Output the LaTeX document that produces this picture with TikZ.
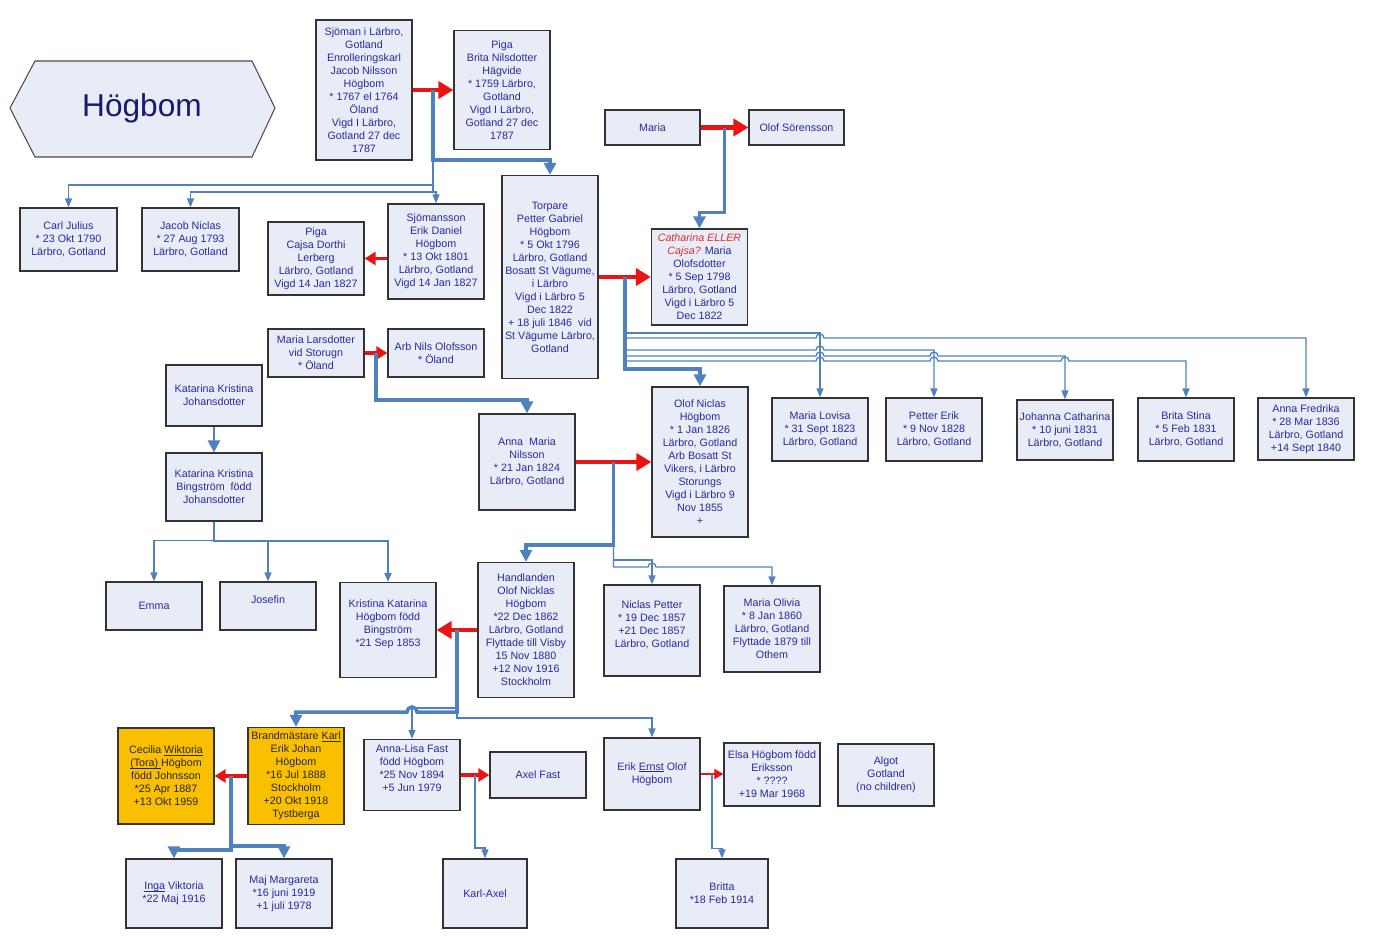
\documentclass[tikz,border=0pt]{standalone}
\usepackage{fontspec}
\setmainfont{Liberation Sans}
\usetikzlibrary{arrows.meta,calc}
\definecolor{boxfill}{RGB}{232,236,246}
\definecolor{namecol}{RGB}{40,40,160}
\definecolor{titlecol}{RGB}{25,25,110}
\definecolor{goldfill}{RGB}{250,192,0}
\definecolor{wedred}{RGB}{235,20,20}
\definecolor{kinblue}{RGB}{79,129,189}
\definecolor{notered}{RGB}{225,45,45}
\newcommand\ulword[1]{\setbox0\hbox{#1}\rlap{\rule[-0.8pt]{\wd0}{0.35pt}}\box0\relax}
\begin{document}
\begin{tikzpicture}[x=0.02cm,y=-0.02cm,
  pbox/.style={draw=black!80,line width=0.7pt,fill=boxfill,text=namecol,align=center,
    font=\fontsize{6.1}{7.4}\selectfont,minimum width=1.92cm,inner sep=1pt},
  gbox/.style={pbox,fill=goldfill,text=black!85},
  ht/.style={minimum height=#1*0.02cm},
  wed/.style={draw=wedred,line width=2.8pt,-{Triangle[length=0.3cm,width=0.34cm]}},
  wedsmall/.style={draw=wedred,line width=2pt,-{Triangle[length=0.22cm,width=0.26cm]}},
  kin/.style={draw=kinblue,line width=0.75pt,-{Triangle[length=0.18cm,width=0.14cm]}},
  heir/.style={draw=kinblue,line width=2pt,-{Triangle[length=0.24cm,width=0.24cm]}}]
  \useasboundingbox (0,0) rectangle (1380,940);

  % Titel
  \filldraw[fill=boxfill,draw=black!70,line width=0.6pt]
    (10,108) -- (35,61) -- (252,61) -- (275,108) -- (252,157) -- (35,157) -- cycle;
  \node[text=titlecol,font=\fontsize{18}{20}\selectfont] (title) at (142,108) {Högbom};

  % Generation 1
  \node[pbox,ht=140] (jacob) at (364,90) {Sjöman i Lärbro,\\Gotland\\Enrolleringskarl\\Jacob Nilsson\\Högbom\\* 1767 el 1764\\Öland\\Vigd I Lärbro,\\Gotland 27 dec\\1787};
  \node[pbox,ht=119] (brita) at (502,90) {Piga\\Brita Nilsdotter\\Hägvide\\* 1759 Lärbro,\\Gotland\\Vigd I Lärbro,\\Gotland 27 dec\\1787};
  \node[pbox,ht=35,minimum width=1.9cm] (maria) at (652.5,127.5) {Maria};
  \node[pbox,ht=35,minimum width=1.9cm] (olof) at (796.5,127.5) {Olof Sörensson};

  % Generation 2
  \node[pbox,ht=63,minimum width=1.94cm] (carl) at (68.5,239.5) {Carl Julius\\* 23 Okt 1790\\Lärbro, Gotland};
  \node[pbox,ht=63,minimum width=1.94cm] (jacobn) at (190.5,239.5) {Jacob Niclas\\* 27 Aug 1793\\Lärbro, Gotland};
  \node[pbox,ht=73] (cajsa) at (316,258.5) {Piga\\Cajsa Dorthi\\Lerberg\\Lärbro, Gotland\\Vigd 14 Jan 1827};
  \node[pbox,ht=95] (erikd) at (436,251.5) {Sjömansson\\Erik Daniel\\Högbom\\* 13 Okt 1801\\Lärbro, Gotland\\Vigd 14 Jan 1827};
  \node[pbox,ht=203] (petter) at (550,277) {Torpare\\Petter Gabriel\\Högbom\\* 5 Okt 1796\\Lärbro, Gotland\\Bosatt St Vägume,\\i Lärbro\\Vigd i Lärbro 5\\Dec 1822\\+ 18 juli 1846 \ vid\\St Vägume Lärbro,\\Gotland};
  \node[pbox,ht=96] (cath) at (699.5,277) {{\color{notered}\itshape Catharina ELLER}\\{\color{notered}\itshape Cajsa?} Maria\\Olofsdotter\\* 5 Sep 1798\\Lärbro, Gotland\\Vigd i Lärbro 5\\Dec 1822};
  \node[pbox,ht=48] (marial) at (316,353) {Maria Larsdotter\\vid Storugn\\* Öland};
  \node[pbox,ht=48] (nils) at (436,353) {Arb Nils Olofsson\\* Öland};
  \node[pbox,ht=61] (katj) at (214,395.5) {Katarina Kristina\\Johansdotter};
  \node[pbox,ht=68] (katb) at (214,487) {Katarina Kristina\\Bingström \ född\\Johansdotter};

  % Generation 3
  \node[pbox,ht=96] (anna) at (527,462) {Anna \ Maria\\Nilsson\\* 21 Jan 1824\\Lärbro, Gotland};
  \node[pbox,ht=150] (olofn) at (700,462) {Olof Niclas\\Högbom\\* 1 Jan 1826\\Lärbro, Gotland\\Arb Bosatt St\\Vikers, i Lärbro\\Storungs\\Vigd i Lärbro 9\\Nov 1855\\+};
  \node[pbox,ht=63] (lovisa) at (820,429.5) {Maria Lovisa\\* 31 Sept 1823\\Lärbro, Gotland};
  \node[pbox,ht=63] (pettere) at (934,429.5) {Petter Erik\\* 9 Nov 1828\\Lärbro, Gotland};
  \node[pbox,ht=60] (johanna) at (1065,430) {Johanna Catharina\\* 10 juni 1831\\Lärbro, Gotland};
  \node[pbox,ht=63] (stina) at (1186,429.5) {Brita Stina\\* 5 Feb 1831\\Lärbro, Gotland};
  \node[pbox,ht=62] (fredrika) at (1306,429) {Anna Fredrika\\* 28 Mar 1836\\Lärbro, Gotland\\+14 Sept 1840};

  % Generation 4
  \node[pbox,ht=48] (emma) at (154,606) {Emma};
  \node[pbox,ht=48] (josefin) at (268,606) {Josefin\\~};
  \node[pbox,ht=95] (kristina) at (388,630) {Kristina Katarina\\Högbom född\\Bingström\\*21 Sep 1853\\~};
  \node[pbox,ht=135] (handl) at (526,630) {Handlanden\\Olof Nicklas\\Högbom\\*22 Dec 1862\\Lärbro, Gotland\\Flyttade till Visby\\15 Nov 1880\\+12 Nov 1916\\Stockholm};
  \node[pbox,ht=91] (niclasp) at (652,630.5) {Niclas Petter\\* 19 Dec 1857\\+21 Dec 1857\\Lärbro, Gotland\\~};
  \node[pbox,ht=86] (olivia) at (772,629) {Maria Olivia\\* 8 Jan 1860\\Lärbro, Gotland\\Flyttade 1879 till\\Othem};

  % Generation 5
  \node[gbox,ht=96] (cecilia) at (166,776) {Cecilia \ulword{Wiktoria}\\\ulword{(Tora) }Högbom\\född Johnsson\\*25 Apr 1887\\+13 Okt 1959};
  \node[gbox,ht=97] (karl) at (296,776) {Brandmästare \ulword{Karl}\\Erik Johan\\Högbom\\*16 Jul 1888\\Stockholm\\+20 Okt 1918\\Tystberga};
  \node[pbox,ht=71] (annalisa) at (412,775) {Anna-Lisa Fast\\född Högbom\\*25 Nov 1894\\+5 Jun 1979\\~};
  \node[pbox,ht=46] (axel) at (538,775) {Axel Fast};
  \node[pbox,ht=72] (ernst) at (652,774) {Erik \ulword{Ernst} Olof\\Högbom};
  \node[pbox,ht=63] (elsa) at (772,774.5) {Elsa Högbom född\\Eriksson\\* ????\\+19 Mar 1968};
  \node[pbox,ht=62] (algot) at (886,775) {Algot\\Gotland\\(no children)};

  % Generation 6
  \node[pbox,ht=69] (inga) at (174,893.5) {\ulword{Inga} Viktoria\\*22 Maj 1916};
  \node[pbox,ht=69] (maj) at (284,893.5) {Maj Margareta\\*16 juni 1919\\+1 juli 1978};
  \node[pbox,ht=69,minimum width=1.68cm] (karlaxel) at (485,893.5) {Karl-Axel};
  \node[pbox,ht=69,minimum width=1.84cm] (britta) at (722,893.5) {Britta\\*18 Feb 1914};

  % Gifta par
  \draw[wed] (jacob.east) -- (brita.west);
  \draw[wed] (maria.east) -- (olof.west);
  \draw[wedsmall] (erikd.west |- cajsa.east) -- (cajsa.east);
  \draw[wed] (petter.east) -- (cath.west);
  \draw[wedsmall] (marial.east) -- (nils.west);
  \draw[wed] (anna.east) -- (olofn.west);
  \draw[wed] (handl.west) -- (kristina.east);
  \draw[wedsmall] (karl.west) -- (cecilia.east);
  \draw[wedsmall] (annalisa.east) -- (axel.west);
  \draw[draw=wedred,line width=1.2pt,-{Triangle[length=0.18cm,width=0.2cm]}] (ernst.east) -- (ernst.east -| elsa.west);

  \coordinate (m1) at ($(jacob.east)!.5!(brita.west)$);
  \coordinate (m2) at ($(maria.east)!.5!(olof.west)$);
  \coordinate (m3) at ($(petter.east)!.5!(cath.west)$);
  \coordinate (m4) at ($(marial.east)!.5!(nils.west)$);
  \coordinate (m7) at ($(anna.east)!.5!(olofn.west)$);
  \coordinate (m8) at ($(handl.west)!.5!(kristina.east)$);
  \coordinate (m9) at ($(karl.west)!.5!(cecilia.east)$);
  \coordinate (m10) at ($(annalisa.east)!.5!(axel.west)$);
  \coordinate (m11) at ($(ernst.east)!.5!(elsa.west)$);

  % Barn
  \draw[heir] (m1) -- ++(0,70) -| (petter.north);
  \draw[kin] (m1) -- ++(0,95) -| (carl.north);
  \draw[kin] (m1) -- ++(0,102) -| (jacobn.north);
  \draw[kin] (m1) -- ++(0,102) -| (erikd.north);

  \draw[heir] (m2) -- ++(0,85) -| (cath.north);

  \draw[heir] (m3) -- ++(0,92) -| (olofn.north);
  \draw[kin] (m3) -- ++(0,56) -| (lovisa.north);
  \draw[kin] (m3) -- ++(0,61) -- (816,338) arc[start angle=180,end angle=0,radius=0.08cm] -| (fredrika.north);
  \draw[kin] (m3) -- ++(0,73) -- (816,350) arc[start angle=180,end angle=0,radius=0.08cm] -| (pettere.north);
  \draw[kin] (m3) -- ++(0,79) -- (816,356) arc[start angle=180,end angle=0,radius=0.08cm]
    -- (930,356) arc[start angle=180,end angle=0,radius=0.08cm] -| (johanna.north);
  \draw[kin] (m3) -- ++(0,84) -- (816,361) arc[start angle=180,end angle=0,radius=0.08cm]
    -- (930,361) arc[start angle=180,end angle=0,radius=0.08cm]
    -- (1061,361) arc[start angle=180,end angle=0,radius=0.08cm] -| (stina.north);

  \draw[heir] (m4) -- ++(0,47) -| (anna.north);

  \draw[heir,line width=1.5pt] (katj) -- (katb);
  \draw[kin] (katb.south) -- ++(0,19) -| (emma.north);
  \draw[kin] (katb.south) -- ++(0,19) -| (josefin.north);
  \draw[kin,line width=1.2pt] (katb.south) -- ++(0,19) -| (kristina.north);

  \draw[heir] (m7) -- ++(0,83) -| (handl.north);
  \draw[kin] (m7) -- ++(0,98) -| (niclasp.north);
  \draw[kin] (m7) -- ++(0,105) -- (648,567) arc[start angle=180,end angle=0,radius=0.08cm] -| (olivia.north);

  \draw[kin] (m8) -- ++(0,78) -| (annalisa.north);
  \draw[heir] (m8) -- ++(0,82) -- (417,712) arc[start angle=0,end angle=180,radius=0.1cm] -| (karl.north);
  \draw[kin] (m8) -- ++(0,88) -| (ernst.north);

  \draw[heir] (m9) -- ++(0,74) -| (inga.north);
  \draw[heir] (m9) -- ++(0,70) -| (maj.north);

  \draw[kin] (m10) -- ++(0,73) -| (karlaxel.north);
  \draw[kin] (m11) -- ++(0,74) -| (britta.north);
\end{tikzpicture}
\end{document}
